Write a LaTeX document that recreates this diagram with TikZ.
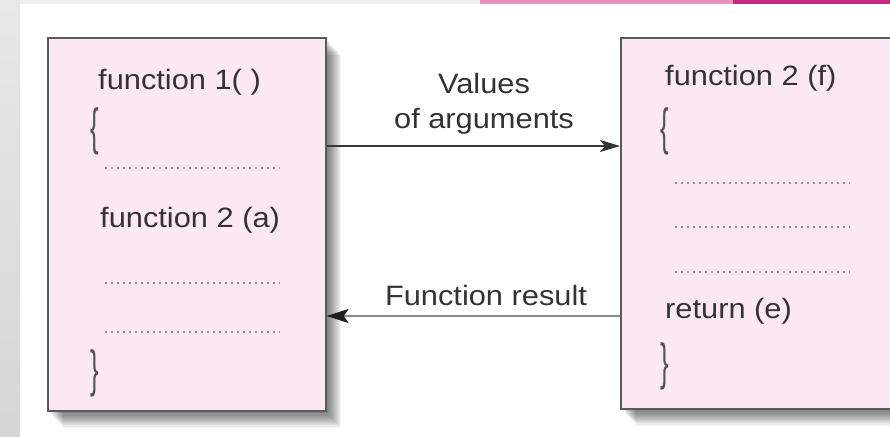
\documentclass[tikz,border=0pt]{standalone}
\usepackage{fontspec}
\setmainfont[FakeStretch=1.1]{Liberation Sans}
\usetikzlibrary{arrows.meta}
\definecolor{boxfill}{HTML}{FCE8F2}
\definecolor{boxline}{HTML}{5A5A5A}
\definecolor{txt}{HTML}{333333}
\definecolor{bandpink}{HTML}{EE90C2}
\definecolor{bandmag}{HTML}{C42A85}
\definecolor{stripgray}{HTML}{E8E8E8}
\tikzset{
  codebox/.style={draw=boxline, line width=1.6pt, fill=boxfill, inner sep=0, anchor=north west},
  codetext/.style={font=\fontsize{28}{32}\selectfont, text=txt, inner sep=0, anchor=base west},
  lbltext/.style={font=\fontsize{28}{32}\selectfont, text=txt, inner sep=0, anchor=base},
  brace/.style={font=\fontsize{26}{30}\selectfont, text=txt!85, inner sep=0, anchor=west},
  dotline/.style={draw=gray!85, line width=1.3pt, dash pattern=on 1.6pt off 4.4pt},
  arrtop/.style={draw=black!78, line width=1.8pt, -{Stealth[length=20pt,width=12pt,inset=5pt,color=black!80,fill=black!80]}},
  arrbot/.style={draw=black!45, line width=2.6pt, -{Stealth[length=22pt,width=14pt,inset=5pt,color=black!88,fill=black!88]}},
  shadowlayer/.style={fill=black, opacity=0.045}
}
\begin{document}
\begin{tikzpicture}[x=1pt,y=-1pt]
\useasboundingbox (0,0) rectangle (890,436);
\clip (0,0) rectangle (890,436);
% background
\fill[white] (0,0) rectangle (890,436);
\shade[top color=stripgray, bottom color=stripgray!92!black] (0,0) rectangle (20,436);
\fill[gray!12] (20,0) rectangle (890,4);
\fill[bandpink] (480,0) rectangle (733,4);
\fill[bandmag] (733,0) rectangle (890,4);
% shadows
\foreach \k in {1,...,16} {
  \fill[shadowlayer] (47+\k,37+1.1*\k) rectangle (325+\k,410+1.1*\k);
  \fill[shadowlayer] (620+\k,37+1.1*\k) rectangle (910+\k,408+1.1*\k);
}
% boxes
\node[codebox, minimum width=278pt, minimum height=373pt] (L) at (47,37) {};
\node[codebox, minimum width=290pt, minimum height=371pt] (R) at (620,37) {};
% left box content
\node[codetext] (l1) at (98,89) {function 1( )};
\node[brace] (lb1) at (90,131) {\scalebox{0.9}[1.95]{\{}};
\draw[dotline] (105,168) -- (280,168);
\node[codetext] (l2) at (100,227) {function 2 (a)};
\draw[dotline] (105,283) -- (280,283);
\draw[dotline] (105,332) -- (280,332);
\node[brace] (lb2) at (90,373) {\scalebox{0.9}[1.95]{\}}};
% right box content
\node[codetext] (r1) at (665,85) {function 2 (f)};
\node[brace] (rb1) at (660,131) {\scalebox{0.9}[1.95]{\{}};
\draw[dotline] (675,183) -- (850,183);
\draw[dotline] (675,227) -- (850,227);
\draw[dotline] (675,272) -- (850,272);
\node[codetext] (r2) at (665,318) {return (e)};
\node[brace] (rb2) at (660,366) {\scalebox{0.9}[1.95]{\}}};
% middle labels
\node[lbltext] (v1) at (484,93) {Values};
\node[lbltext] (v2) at (484,128) {of arguments};
\node[lbltext] (fr) at (486,305) {Function result};
% arrows
\coordinate (a1) at (0,146);
\coordinate (a2) at (0,316);
\draw[arrtop] (L.east |- a1) -- (R.west |- a1);
\draw[arrbot] (R.west |- a2) -- (L.east |- a2);
\end{tikzpicture}
\end{document}
